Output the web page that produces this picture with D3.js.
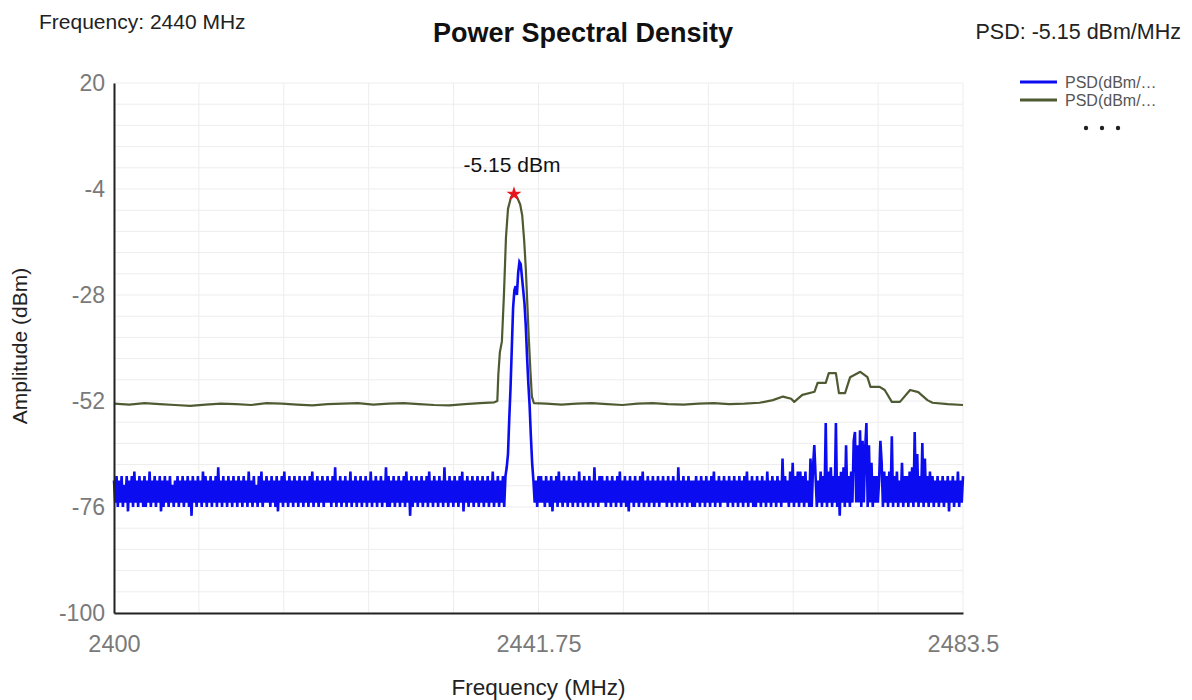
<!DOCTYPE html>
<html>
<head>
<meta charset="utf-8" />
<title>power spectral density</title>
<style>
html, body {
	margin:0;
	padding:0;
	background:#ffffff;
}
svg {
	font-family: 'Liberation Sans', Arial, sans-serif;
	display:block;
}
</style>
</head>
<body>

<script type="text/javascript" src="https://cdn.jsdelivr.net/npm/d3@7/dist/d3.min.js"></script>

<script>

//=======================================
// data
//=======================================

let xTicks = [2400, 2441.75, 2483.5],
		yTicks = [20, -4, -28, -52, -76, -100];

let headerFreq = 'Frequency: 2440 MHz',
		headerPsd  = 'PSD: -5.15 dBm/MHz',
		legendLabels = ['PSD(dBm/…', 'PSD(dBm/…'];

let peak = {freq: 2439.34, db: -5.15, label: '-5.15 dBm'};

// blue trace: one value per 0.125 MHz bin, starting 2400 MHz
let blueStart = 2400,
		blueStep  = 0.125;

let blueDb = [
	-70,-75,-69,-76,-70,-75,-69,-76,-71,-75,-69,-77,-70,-75,-69,-76,-68,-75,-70,-76,-69,-75,-70,-76,
	-69,-76,-70,-75,-68,-76,-70,-75,-69,-76,-70,-75,-69,-77,-70,-76,-69,-75,-70,-76,-69,-75,-71,-76,
	-70,-75,-69,-76,-70,-75,-69,-76,-70,-75,-69,-76,-70,-78,-69,-75,-70,-76,-69,-75,-70,-76,-68,-75,
	-69,-76,-70,-75,-69,-76,-70,-75,-69,-76,-67,-75,-70,-76,-69,-75,-70,-76,-69,-75,-70,-76,-69,-75,
	-70,-76,-69,-75,-70,-76,-69,-75,-70,-76,-68,-75,-70,-76,-69,-75,-71,-76,-69,-75,-68,-76,-70,-75,
	-69,-75,-70,-76,-69,-75,-70,-76,-69,-77,-70,-75,-69,-76,-68,-75,-70,-76,-69,-75,-70,-76,-69,-75,
	-70,-76,-69,-75,-70,-76,-69,-75,-70,-76,-69,-75,-68,-76,-70,-75,-69,-76,-70,-75,-69,-76,-70,-75,
	-69,-75,-70,-76,-69,-75,-67,-76,-70,-75,-69,-76,-70,-75,-69,-76,-70,-75,-68,-76,-70,-75,-69,-76,
	-70,-75,-69,-76,-70,-75,-69,-76,-70,-75,-68,-76,-70,-75,-69,-76,-70,-75,-69,-76,-70,-75,-67,-76,
	-69,-76,-70,-75,-69,-76,-70,-75,-69,-76,-70,-75,-69,-76,-68,-75,-70,-78,-69,-76,-70,-75,-69,-76,
	-70,-75,-69,-76,-70,-75,-69,-76,-68,-75,-70,-76,-69,-75,-70,-76,-69,-75,-70,-76,-67,-75,-70,-76,
	-69,-75,-70,-76,-69,-75,-70,-76,-69,-75,-68,-77,-70,-75,-69,-76,-70,-75,-69,-76,-70,-75,-69,-76,
	-70,-75,-69,-76,-70,-75,-69,-76,-70,-75,-68,-76,-70,-75,-69,-76,-70,-75,-69,-76,-69,-67,-64,-56,
	-49,-40,-31,-27,-26,-28,-23,-20.5,-21,-24,-27,-30,-35,-42,-48,-53,-60,-66,-70,-75,-70,-76,-69,-75,
	-69,-75,-70,-76,-69,-75,-70,-76,-69,-77,-70,-75,-69,-76,-68,-75,-70,-76,-69,-75,-70,-76,-69,-75,
	-70,-76,-69,-75,-70,-76,-68,-75,-70,-76,-69,-75,-70,-76,-69,-75,-70,-76,-67,-75,-70,-76,-69,-75,
	-69,-75,-70,-76,-69,-75,-70,-76,-69,-75,-70,-76,-69,-75,-68,-76,-70,-75,-69,-76,-70,-77,-69,-75,
	-70,-76,-69,-75,-70,-76,-69,-75,-68,-76,-70,-75,-69,-76,-70,-75,-69,-76,-70,-75,-69,-76,-70,-75,
	-69,-75,-70,-76,-69,-75,-70,-76,-69,-75,-70,-76,-67,-75,-70,-76,-69,-75,-70,-76,-69,-75,-70,-76,
	-70,-76,-69,-75,-70,-76,-69,-75,-70,-76,-69,-75,-70,-76,-69,-75,-68,-76,-70,-75,-69,-76,-70,-75,
	-69,-75,-70,-76,-69,-75,-70,-76,-69,-75,-70,-76,-69,-75,-70,-76,-69,-75,-68,-76,-70,-75,-69,-76,
	-70,-76,-69,-75,-70,-76,-69,-75,-70,-76,-68,-75,-70,-76,-69,-75,-70,-76,-69,-75,-70,-76,-65,-75,
	-69,-75,-70,-76,-68,-75,-66,-76,-69,-75,-68,-76,-68,-75,-69,-76,-68,-75,-70,-76,-65,-76,-67,-62,
	-69,-76,-70,-75,-68,-76,-69,-75,-57,-76,-68,-75,-67,-76,-69,-75,-57,-76,-69,-78,-68,-75,-67,-76,
	-62,-75,-69,-76,-68,-75,-61,-59,-75,-62,-75,-58.6,-76,-61,-75,-63,-57,-76,-62,-75,-66,-76,-69,-75,
	-69,-75,-70,-61,-66,-76,-68,-75,-69,-76,-68,-75,-60,-76,-69,-75,-68,-76,-70,-75,-66,-76,-69,-75,
	-69,-76,-68,-75,-67,-76,-59,-75,-64,-76,-69,-75,-61.5,-76,-65,-75,-69,-76,-68,-75,-69,-76,-70,-75,
	-69,-76,-70,-75,-69,-76,-70,-75,-69,-77,-70,-75,-69,-76,-70,-75,-68,-76,-70,-75,-69
];

// green trace: [MHz, dBm]
let greenTrace = [
	[2400,-52.6],[2401.5,-52.8],[2403,-52.5],[2404.5,-52.7],[2406,-52.9],[2407.5,-53.1],
	[2409,-52.8],[2410.5,-52.6],[2412,-52.7],[2413.5,-52.9],[2415,-52.5],[2416.5,-52.6],
	[2418,-52.8],[2419.5,-53.0],[2421,-52.7],[2422.5,-52.6],[2424,-52.5],[2425.5,-52.8],
	[2427,-52.6],[2428.5,-52.5],[2430,-52.7],[2431.5,-52.9],[2433,-53.0],[2434.5,-52.7],
	[2436,-52.5],[2437.4,-52.3],[2437.7,-52.0],[2437.8,-46],[2437.95,-41],[2438.15,-38.5],
	[2438.35,-28],[2438.55,-15],[2438.75,-8.5],[2439.05,-5.8],[2439.34,-5.15],[2439.65,-5.9],
	[2439.95,-7.5],[2440.15,-10],[2440.35,-16],[2440.5,-22],[2440.65,-30],[2440.8,-38],
	[2440.95,-45],[2441.1,-51],[2441.3,-52.5],[2442.5,-52.6],[2444,-52.8],[2445.5,-52.6],
	[2447,-52.5],[2448.5,-52.7],[2450,-52.9],[2451.5,-52.6],[2453,-52.5],[2454.5,-52.7],
	[2456,-52.8],[2457.5,-52.6],[2459,-52.5],[2460.5,-52.7],[2462,-52.6],[2463.5,-52.4],
	[2464.8,-51.8],[2465.8,-51.0],[2466.6,-51.5],[2466.9,-52.2],[2467.7,-50.6],[2468.9,-49.9],
	[2469.2,-47.9],[2470.0,-47.9],[2470.3,-45.7],[2471.0,-45.7],[2471.3,-50.2],[2471.9,-50.2],
	[2472.4,-46.6],[2473.4,-45.4],[2474.1,-46.6],[2474.4,-48.8],[2475.3,-48.8],[2475.8,-49.5],
	[2476.5,-52.2],[2477.3,-52.2],[2478.3,-49.5],[2479.1,-50.0],[2480.0,-51.8],[2480.5,-52.4],
	[2482,-52.7],[2483.5,-52.9]
];

let colors = {
	blue  : '#0c0cf0',
	green : '#4e5a32',
};


//====================================================================================
//
//====================================================================================

d3.select('body').append('div').call(chart);


function chart(sel)	{

	let W = 1192,
			H = 700,
			margin = {top:83, left:114, right:229, bottom:87},
			width  = W - margin.left - margin.right,
			height = H - margin.top - margin.bottom,

			x = d3.scaleLinear().domain([xTicks[0], xTicks[xTicks.length-1]]).range([0, width]),
			y = d3.scaleLinear().domain([yTicks[yTicks.length-1], yTicks[0]]).range([height, 0]),

			xMinor = d3.range(0, 11).map(i=>x.domain()[0] + i*(x.domain()[1]-x.domain()[0])/10),
			yMinor = d3.range(0, 26).map(i=>y.domain()[0] + i*(y.domain()[1]-y.domain()[0])/25),

			blueTrace = blueDb.map((d,i)=>[blueStart + i*blueStep, d]),
			line = d3.line().x(d=>x(d[0])).y(d=>y(d[1]));

	let svg = sel.append('svg')
		.attr('width', W)
		.attr('height', H)
		.attr('viewBox', [0,0,W,H].join(' '));

	//=====================
	// header texts
	//=====================
	svg.append('text')
		.attr('x', 39).attr('y', 22)
		.attr('dy', '0.35em')
		.attr('font-size', 21)
		.attr('fill', '#222')
		.text(headerFreq);

	svg.append('text')
		.attr('x', 583).attr('y', 33)
		.attr('dy', '0.35em')
		.attr('text-anchor', 'middle')
		.attr('font-size', 27)
		.attr('font-weight', 'bold')
		.attr('fill', '#111')
		.text('Power Spectral Density');

	svg.append('text')
		.attr('x', 1181).attr('y', 31)
		.attr('dy', '0.35em')
		.attr('text-anchor', 'end')
		.attr('font-size', 21.5)
		.attr('fill', '#222')
		.text(headerPsd);

	svg.append('g')
		.attr('transform', 'translate('+[margin.left, margin.top]+')')
		.call(sel=>{

			//=====================
			// grid
			//=====================
			sel.append('g').attr('class','grid')
				.call(sel=>{
					sel.selectAll('line.h').data(yMinor)
						.enter().append('line')
							.attr('class','h')
							.attr('x1', 0).attr('x2', width)
							.attr('y1', d=>y(d)).attr('y2', d=>y(d))
							.attr('stroke', '#ededed');

					sel.selectAll('line.v').data(xMinor)
						.enter().append('line')
							.attr('class','v')
							.attr('x1', d=>x(d)).attr('x2', d=>x(d))
							.attr('y1', 0).attr('y2', height)
							.attr('stroke', '#ededed');
				});

			//=====================
			// traces
			//=====================
			sel.append('path')
				.attr('class','green')
				.attr('d', line(greenTrace))
				.attr('fill','none')
				.attr('stroke', colors.green)
				.attr('stroke-width', 2.2)
				.attr('stroke-linejoin','round');

			sel.append('path')
				.attr('class','blue')
				.attr('d', line(blueTrace))
				.attr('fill','none')
				.attr('stroke', colors.blue)
				.attr('stroke-width', 2.6);

			//=====================
			// axis
			//=====================
			sel.append('g')
				.attr('class','y-axis')
				.call(d3.axisLeft(y).tickValues(yTicks).tickSize(0).tickSizeOuter(0).tickPadding(9).tickFormat(d=>String(d)))
				.call(g=>{
					g.select('.domain').attr('stroke','#222').attr('stroke-width',2);
					g.selectAll('text').attr('font-size',23).attr('fill','#7a7a7a').attr('font-family',null);
				});

			sel.append('g')
				.attr('class','x-axis')
				.attr('transform','translate('+[0,height]+')')
				.call(d3.axisBottom(x).tickValues(xTicks).tickSize(0).tickSizeOuter(0).tickPadding(22).tickFormat(d=>String(d)))
				.call(g=>{
					g.select('.domain').attr('stroke','#222').attr('stroke-width',2);
					g.selectAll('text').attr('font-size',23.5).attr('fill','#7a7a7a').attr('font-family',null);
				});

			//=====================
			// axis titles
			//=====================
			sel.append('text')
				.attr('x', width/2).attr('y', 687 - margin.top)
				.attr('dy','0.35em')
				.attr('text-anchor','middle')
				.attr('font-size', 22.5)
				.attr('fill','#222')
				.text('Frequency (MHz)');

			sel.append('text')
				.attr('transform','translate('+[20 - margin.left, 346 - margin.top]+') rotate(-90)')
				.attr('dy','0.35em')
				.attr('text-anchor','middle')
				.attr('font-size', 21)
				.attr('fill','#222')
				.text('Amplitude (dBm)');

			//=====================
			// peak marker
			//=====================
			sel.append('path')
				.attr('d', d3.symbol().type(d3.symbolStar).size(70)())
				.attr('transform','translate('+[x(peak.freq), y(peak.db)]+')')
				.attr('fill','#e8141e');

			sel.append('text')
				.attr('x', x(peak.freq) - 2).attr('y', y(peak.db) - 29)
				.attr('dy','0.35em')
				.attr('text-anchor','middle')
				.attr('font-size', 21)
				.attr('fill','#111')
				.text(peak.label);

		});

	//=====================
	// legend
	//=====================
	svg.append('g').attr('class','legend')
		.attr('transform','translate('+[1020, 82]+')')
		.call(sel=>{

			sel.selectAll('g').data(legendLabels)
				.enter().append('g')
					.attr('transform',(d,i)=>'translate('+[0, i*18]+')')
					.call(sel=>{
						sel.append('line')
							.attr('x1',0).attr('x2',37)
							.attr('stroke',(d,i)=>i ? colors.green : colors.blue)
							.attr('stroke-width',3);
						sel.append('text')
							.attr('x',45)
							.attr('dy','0.35em')
							.attr('font-size',16)
							.attr('fill','#555')
							.text(d=>d);
					});

			sel.selectAll('circle').data([0,1,2])
				.enter().append('circle')
					.attr('cx',d=>66 + d*16)
					.attr('cy',46)
					.attr('r',2.2)
					.attr('fill','#222');
		});

}

</script>

</body>
</html>
